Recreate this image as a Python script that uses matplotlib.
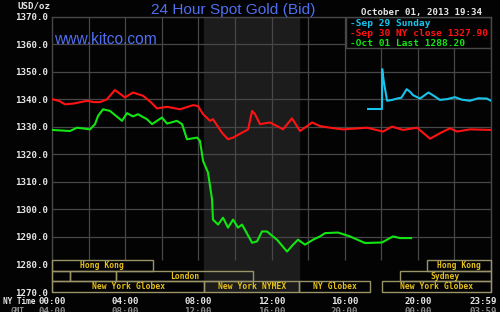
import matplotlib
matplotlib.use("Agg")
import matplotlib.pyplot as plt
from matplotlib.patches import Rectangle
from matplotlib.transforms import ScaledTranslation

# --- data (hours in NY time, price in USD/oz) ---
sep29_hours = [17.28, 18.04, 18.05, 18.15, 18.32, 18.6, 18.86, 19.1, 19.39, 19.6, 19.74,
               20.12, 20.58, 20.8, 21.21, 21.6, 22.03, 22.4, 22.85, 23.3, 23.77, 24.0]
sep29_price = [1336.5, 1336.5, 1351.0, 1346.0, 1339.5, 1339.8, 1340.3, 1340.6, 1343.7, 1342.6, 1341.5,
               1340.3, 1342.5, 1341.6, 1339.8, 1340.1, 1340.8, 1339.9, 1339.5, 1340.4, 1340.3, 1339.5]

sep30_hours = [0.0, 0.4, 0.71, 1.2, 1.91, 2.3, 2.62, 3.0, 3.44, 3.99, 4.43, 4.98, 5.4, 5.74,
               6.29, 7.0, 7.71, 7.98, 8.26, 8.64, 8.8, 9.29, 9.62, 9.9, 10.39, 10.72, 10.94,
               11.1, 11.37, 11.92, 12.3, 12.63, 13.12, 13.56, 14.22, 14.65, 15.3, 15.91, 16.6,
               17.22, 18.1, 18.59, 19.19, 19.96, 20.67, 21.21, 21.76, 22.14, 22.85, 23.95]
sep30_price = [1340.1, 1339.4, 1338.2, 1338.5, 1339.5, 1339.0, 1339.0, 1340.0, 1343.4, 1340.7,
               1342.5, 1341.3, 1339.0, 1336.7, 1337.3, 1336.4, 1337.9, 1337.6, 1334.6, 1332.2,
               1332.8, 1327.9, 1325.5, 1326.1, 1327.9, 1329.1, 1335.8, 1334.6, 1331.0, 1331.6,
               1330.3, 1329.1, 1333.1, 1328.5, 1331.6, 1330.3, 1329.6, 1329.1, 1329.4, 1329.7,
               1328.3, 1330.1, 1328.9, 1329.7, 1325.7, 1327.7, 1329.5, 1328.3, 1329.1, 1328.9]

oct01_hours = [0.0, 0.98, 1.37, 2.08, 2.35, 2.52, 2.79, 3.17, 3.83, 4.1, 4.43, 4.7, 5.19,
               5.47, 5.74, 6.01, 6.29, 6.83, 7.11, 7.38, 7.93, 8.09, 8.26, 8.53, 8.75, 8.8,
               9.08, 9.35, 9.62, 9.9, 10.17, 10.39, 10.94, 11.21, 11.48, 11.75, 12.3, 12.85,
               13.18, 13.45, 13.83, 14.27, 14.65, 14.93, 15.64, 16.29, 17.11, 18.04, 18.64,
               19.03, 19.63]
oct01_price = [1328.9, 1328.5, 1329.7, 1329.1, 1331.0, 1334.0, 1336.4, 1335.8, 1332.2, 1335.0,
               1333.8, 1334.6, 1332.8, 1331.0, 1332.2, 1333.4, 1331.2, 1332.2, 1331.0, 1325.5,
               1326.1, 1324.9, 1317.6, 1313.4, 1303.6, 1296.3, 1294.5, 1297.0, 1293.4, 1296.3,
               1293.4, 1294.5, 1287.9, 1288.4, 1292.0, 1292.0, 1289.0, 1284.7, 1287.2, 1289.0,
               1287.2, 1289.0, 1290.2, 1291.4, 1291.6, 1290.2, 1287.8, 1288.0, 1290.2, 1289.6,
               1289.6]

# trading session boxes: row 0 = top row
session_labels = ["Hong Kong", "Hong Kong", "", "", "London", "Sydney",
                  "New York Globex", "New York NYMEX", "NY Globex", "New York Globex"]
session_start = [0.0, 20.5, 0.0, 1.0, 3.5, 19.0, 0.0, 8.33, 13.5, 18.05]
session_end = [5.5, 24.0, 1.0, 3.5, 11.0, 24.0, 8.33, 13.5, 17.4, 24.0]
session_row = [0, 0, 1, 1, 1, 1, 2, 2, 2, 2]

ny_ticks = [0, 4, 8, 12, 16, 20, 24]
ny_tick_labels = ["00:00", "04:00", "08:00", "12:00", "16:00", "20:00", "23:59"]
gmt_tick_labels = ["04:00", "08:00", "12:00", "16:00", "20:00", "00:00", "03:59"]

legend_labels = ["-Sep 29 Sunday", "-Sep 30 NY close 1327.90", "-Oct 01 Last 1288.20"]

# --- styling ---
BG = "#030303"
GRID = "#474747"
SHADE = "#1b1c1b"
BOX_EDGE = "#9a9468"
BOX_TEXT = "#e8c21a"
BLUE = "#4f6ff0"
CYAN = "#18c4ec"
RED = "#ff1212"
GREEN = "#12e612"
MONO = "DejaVu Sans Mono"

fig = plt.figure(figsize=(5, 3.12), dpi=100, facecolor=BG)
ax = fig.add_axes([0.104, 0.0641, 0.878, 0.882], facecolor=BG)
ax.set_xlim(0, 24)
ax.set_ylim(1270, 1370)

# NYMEX shaded area
ax.axvspan(8.33, 13.5, color=SHADE, zorder=0)

# grid (stops above the session rows)
row_h = 3.85
rows_top = 1270 + 3 * row_h
ax.vlines(range(2, 24, 2), rows_top, 1370, color=GRID, lw=0.9, zorder=1)
ax.hlines(range(1290, 1370, 10), 0, 24, color=GRID, lw=0.9, zorder=1)

for side in ["top", "right", "left"]:
    ax.spines[side].set_color(GRID)
    ax.spines[side].set_linewidth(1.0)
ax.spines["bottom"].set_visible(False)

# price lines
ax.plot(sep30_hours, sep30_price, color=RED, lw=1.5, zorder=3)
ax.plot(oct01_hours, oct01_price, color=GREEN, lw=1.5, zorder=3)
ax.plot(sep29_hours, sep29_price, color=CYAN, lw=1.5, zorder=3)

# session boxes
for label, s, e, r in zip(session_labels, session_start, session_end, session_row):
    y0 = 1270 + (2 - r) * row_h
    ax.add_patch(Rectangle((s, y0), e - s, row_h, fill=False, edgecolor=BOX_EDGE,
                           lw=1.0, zorder=4, clip_on=False))
    if label:
        ax.text((s + e) / 2, y0 + row_h / 2, label, color=BOX_TEXT, fontsize=5.8,
                family=MONO, fontweight="bold", ha="center", va="center", zorder=5)

# legend box
ax.add_patch(Rectangle((16.07, 1358.7), 24 - 16.07, 1370 - 1358.7, facecolor=BG,
                       edgecolor=GRID, lw=1.0, zorder=2))
for i, (txt, c) in enumerate(zip(legend_labels, [CYAN, RED, GREEN])):
    fig.text(0.700, 0.926 - i * 0.032, txt, color=c, fontsize=6.8, family=MONO,
             fontweight="bold", ha="left", va="center")

# ticks
ax.set_yticks(range(1270, 1371, 10))
ax.set_yticklabels([f"{v:.1f}" for v in range(1270, 1371, 10)])
ax.set_xticks(ny_ticks)
ax.set_xticklabels(ny_tick_labels)
ax.tick_params(length=0, colors="#e6e6e6", labelsize=6.6, pad=3)
ax.tick_params(axis="x", pad=3.5)
for lbl in ax.get_xticklabels() + ax.get_yticklabels():
    lbl.set_family(MONO)
    lbl.set_fontweight("bold")

# last label sits a little left of the 24h edge so it fits in the figure
shift_left = ScaledTranslation(-0.08, 0, fig.dpi_scale_trans)
last_lbl = ax.get_xticklabels()[-1]
last_lbl.set_transform(last_lbl.get_transform() + shift_left)

# GMT row, half cut by the bottom edge like the original
for h, g in zip(ny_ticks, gmt_tick_labels):
    t = ax.text(h, -0.07, g, color="#8a8a8a", fontsize=6.6, family=MONO, fontweight="bold",
                ha="center", va="center", transform=ax.get_xaxis_transform(), clip_on=False)
    if h == 24:
        t.set_transform(t.get_transform() + shift_left)

# texts
fig.text(0.006, 0.034, "NY Time", color="#e6e6e6", fontsize=5.6, family=MONO,
         fontweight="bold", ha="left", va="center")
fig.text(0.034, 0.002, "GMT", color="#8a8a8a", fontsize=5.6, family=MONO,
         fontweight="bold", ha="center", va="center")
fig.text(0.034, 0.981, "USD/oz", color="#e6e6e6", fontsize=6.6, family=MONO,
         fontweight="bold", ha="left", va="center")
fig.text(0.466, 0.968, "24 Hour Spot Gold (Bid)", color=BLUE, fontsize=11.1,
         family="Liberation Sans", ha="center", va="center")
fig.text(0.108, 0.875, "www.kitco.com", color=BLUE, fontsize=11.2,
         family="Liberation Sans", ha="left", va="center")
fig.text(0.964, 0.9615, "October 01, 2013 19:34", color="#e6e6e6", fontsize=6.6,
         family=MONO, fontweight="bold", ha="right", va="center")

fig.savefig("out.png", dpi=100, facecolor=BG)
plt.close(fig)
